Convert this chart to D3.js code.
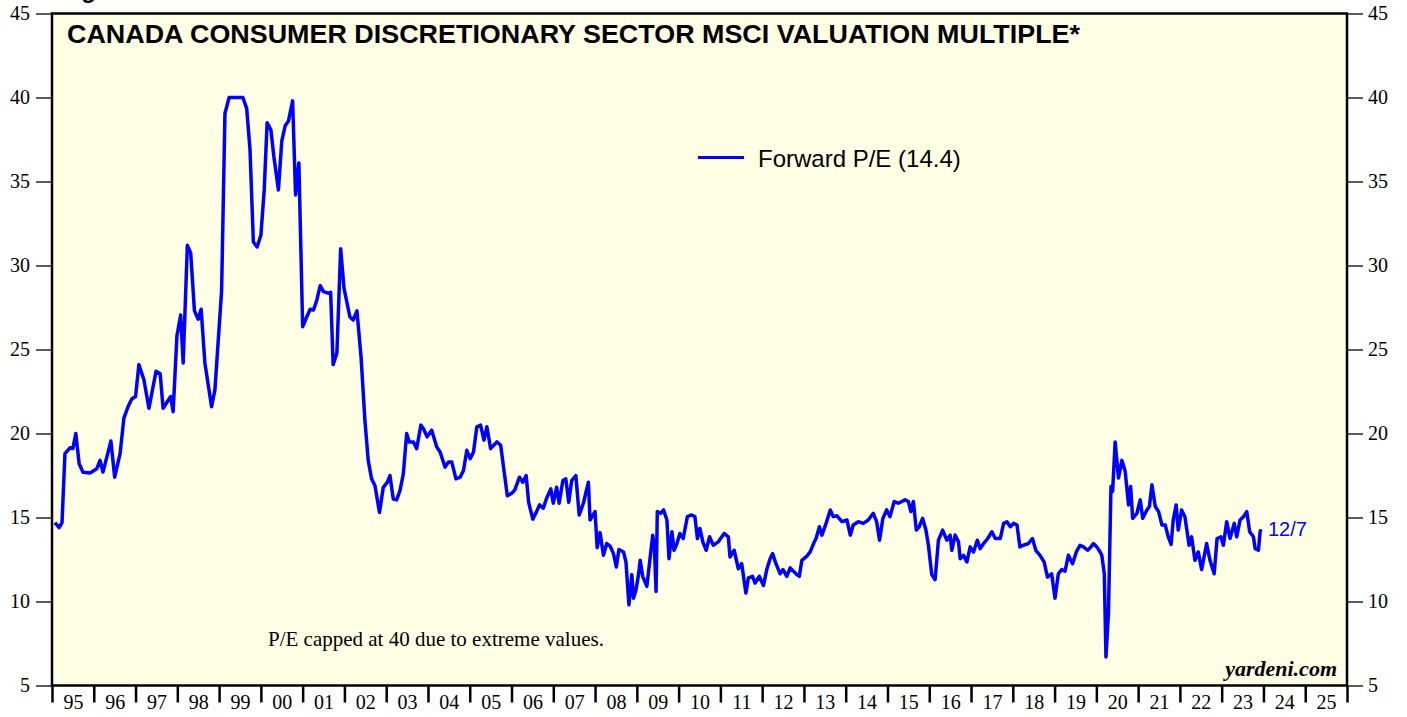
<!DOCTYPE html>
<html>
<head>
<meta charset="utf-8">
<script src="https://cdn.jsdelivr.net/npm/d3@7"></script>
<style>
  body { margin: 0; background: #fff; }
  svg { display: block; }
</style>
</head>
<body>
<script>
// forward P/E (decimal year, value)
var years = [
  1995.07, 1995.17, 1995.24, 1995.31, 1995.43, 1995.50, 1995.57, 1995.65, 1995.74, 1995.91,
  1996.07, 1996.15, 1996.22, 1996.41, 1996.50, 1996.63, 1996.72, 1996.82, 1996.91, 1997.00,
  1997.08, 1997.20, 1997.32, 1997.49, 1997.59, 1997.66, 1997.84, 1997.90, 1997.99, 1998.08,
  1998.14, 1998.24, 1998.32, 1998.41, 1998.50, 1998.57, 1998.66, 1998.82, 1998.90, 1999.06,
  1999.14, 1999.24, 1999.57, 1999.66, 1999.74, 1999.82, 1999.91, 2000.00, 2000.08, 2000.15,
  2000.24, 2000.31, 2000.42, 2000.50, 2000.58, 2000.66, 2000.76, 2000.83, 2000.91, 2001.00,
  2001.10, 2001.18, 2001.26, 2001.34, 2001.42, 2001.50, 2001.61, 2001.67, 2001.73, 2001.82,
  2001.91, 2001.99, 2002.13, 2002.21, 2002.30, 2002.40, 2002.49, 2002.57, 2002.65, 2002.73,
  2002.84, 2002.93, 2003.03, 2003.09, 2003.17, 2003.25, 2003.33, 2003.41, 2003.49, 2003.55,
  2003.65, 2003.73, 2003.83, 2003.89, 2003.98, 2004.09, 2004.21, 2004.29, 2004.41, 2004.49,
  2004.57, 2004.67, 2004.77, 2004.85, 2004.93, 2005.01, 2005.09, 2005.17, 2005.26, 2005.34,
  2005.41, 2005.50, 2005.65, 2005.74, 2005.90, 2006.01, 2006.08, 2006.19, 2006.27, 2006.35,
  2006.41, 2006.51, 2006.60, 2006.67, 2006.76, 2006.84, 2006.94, 2007.00, 2007.08, 2007.14,
  2007.23, 2007.30, 2007.37, 2007.44, 2007.54, 2007.62, 2007.72, 2007.84, 2007.88, 2008.00,
  2008.05, 2008.12, 2008.20, 2008.28, 2008.36, 2008.44, 2008.51, 2008.57, 2008.68, 2008.74,
  2008.81, 2008.88, 2008.92, 2008.98, 2009.04, 2009.08, 2009.14, 2009.24, 2009.32, 2009.38,
  2009.42, 2009.46, 2009.49, 2009.57, 2009.64, 2009.72, 2009.77, 2009.84, 2009.89, 2009.96,
  2010.03, 2010.11, 2010.21, 2010.31, 2010.39, 2010.45, 2010.51, 2010.58, 2010.66, 2010.74,
  2010.83, 2010.95, 2011.09, 2011.19, 2011.23, 2011.33, 2011.43, 2011.51, 2011.61, 2011.67,
  2011.77, 2011.83, 2011.93, 2012.03, 2012.11, 2012.19, 2012.25, 2012.33, 2012.43, 2012.50,
  2012.59, 2012.67, 2012.75, 2012.83, 2012.89, 2012.95, 2013.07, 2013.15, 2013.23, 2013.29,
  2013.37, 2013.43, 2013.53, 2013.63, 2013.70, 2013.79, 2013.91, 2014.03, 2014.11, 2014.18,
  2014.30, 2014.42, 2014.54, 2014.66, 2014.74, 2014.81, 2014.89, 2014.98, 2015.06, 2015.16,
  2015.26, 2015.42, 2015.50, 2015.56, 2015.62, 2015.69, 2015.76, 2015.84, 2015.92, 2015.98,
  2016.06, 2016.14, 2016.22, 2016.32, 2016.42, 2016.50, 2016.54, 2016.62, 2016.70, 2016.74,
  2016.82, 2016.90, 2016.98, 2017.06, 2017.15, 2017.22, 2017.30, 2017.40, 2017.50, 2017.58,
  2017.70, 2017.78, 2017.86, 2017.94, 2018.02, 2018.10, 2018.17, 2018.25, 2018.37, 2018.47,
  2018.55, 2018.65, 2018.75, 2018.83, 2018.93, 2019.01, 2019.09, 2019.17, 2019.25, 2019.33,
  2019.43, 2019.52, 2019.61, 2019.69, 2019.79, 2019.87, 2019.93, 2020.01, 2020.09, 2020.13,
  2020.19, 2020.23, 2020.29, 2020.35, 2020.39, 2020.45, 2020.53, 2020.61, 2020.69, 2020.77,
  2020.82, 2020.87, 2020.97, 2021.05, 2021.11, 2021.21, 2021.27, 2021.33, 2021.41, 2021.49,
  2021.57, 2021.65, 2021.72, 2021.79, 2021.84, 2021.91, 2021.96, 2022.04, 2022.12, 2022.22,
  2022.28, 2022.36, 2022.44, 2022.52, 2022.64, 2022.72, 2022.82, 2022.89, 2022.98, 2023.04,
  2023.12, 2023.20, 2023.30, 2023.36, 2023.44, 2023.52, 2023.60, 2023.67, 2023.76, 2023.80,
  2023.88, 2023.92, 2023.94
];
var pe = [
  14.7, 14.4, 14.7, 18.8, 19.15, 19.1, 20.0, 18.2, 17.7, 17.65,
  17.9, 18.4, 17.7, 19.55, 17.4, 18.8, 20.9, 21.6, 22.05, 22.2,
  24.1, 23.2, 21.5, 23.7, 23.55, 21.5, 22.2, 21.3, 25.8, 27.05,
  24.2, 31.2, 30.75, 27.3, 26.8, 27.4, 24.2, 21.6, 22.6, 28.5,
  39.05, 40, 40, 39.35, 36.9, 31.4, 31.1, 31.8, 34.5, 38.5,
  38.07, 36.5, 34.5, 37.4, 38.3, 38.6, 39.8, 34.2, 36.1, 26.35,
  26.95, 27.4, 27.35, 27.95, 28.8, 28.45, 28.35, 28.4, 24.1, 24.8,
  31.0, 28.65, 26.95, 26.75, 27.3, 24.5, 20.8, 18.4, 17.3, 16.9,
  15.3, 16.8, 17.1, 17.5, 16.1, 16.05, 16.6, 17.6, 20.0, 19.5,
  19.5, 19.1, 20.5, 20.3, 19.8, 20.2, 19.2, 18.9, 18.0, 18.3,
  18.3, 17.3, 17.4, 17.8, 19.0, 18.5, 18.9, 20.4, 20.5, 19.6,
  20.4, 19.1, 19.5, 19.3, 16.3, 16.45, 16.65, 17.4, 17.1, 17.5,
  15.9, 14.9, 15.35, 15.75, 15.55, 16.15, 16.7, 15.85, 16.8, 15.85,
  17.2, 17.3, 15.9, 17.2, 17.5, 15.15, 15.85, 17.1, 14.85, 15.35,
  13.2, 14.1, 12.75, 13.45, 13.3, 12.85, 12.05, 13.1, 12.95, 12.35,
  9.8, 11.6, 10.2, 10.7, 11.6, 12.45, 11.5, 10.9, 12.65, 13.95,
  13.25, 10.6, 15.35, 15.25, 15.45, 14.85, 12.55, 14.15, 13.05, 13.45,
  14.05, 13.75, 15.05, 15.15, 15.05, 13.75, 14.35, 13.55, 13.05, 13.85,
  13.35, 13.55, 14.05, 13.85, 12.65, 13.05, 11.95, 12.25, 10.5, 11.4,
  11.5, 11.1, 11.5, 10.95, 11.9, 12.55, 12.85, 12.25, 11.65, 11.9,
  11.5, 12.0, 11.8, 11.6, 11.5, 12.45, 12.7, 12.95, 13.45, 13.75,
  14.45, 13.95, 14.65, 15.45, 15.05, 15.1, 14.75, 14.85, 13.95, 14.55,
  14.75, 14.65, 14.85, 15.25, 14.75, 13.65, 14.95, 15.45, 15.05, 15.95,
  15.85, 16.05, 15.95, 15.35, 15.95, 14.25, 14.45, 14.95, 14.25, 13.35,
  11.6, 11.3, 13.65, 14.25, 13.65, 13.95, 13.05, 13.95, 13.55, 12.55,
  12.75, 12.35, 13.25, 12.95, 13.65, 13.15, 13.45, 13.75, 14.15, 13.75,
  13.75, 14.65, 14.75, 14.45, 14.65, 14.55, 13.25, 13.35, 13.45, 13.75,
  13.05, 12.75, 12.35, 11.45, 11.65, 10.2, 11.65, 11.9, 11.8, 12.75,
  12.25, 12.95, 13.35, 13.25, 13.05, 13.25, 13.45, 13.25, 12.95, 12.75,
  11.65, 6.7, 9.3, 16.85, 16.55, 19.5, 17.35, 18.4, 17.75, 15.75,
  16.85, 14.95, 15.25, 16.05, 14.95, 15.45, 15.65, 16.95, 15.65, 15.35,
  14.55, 14.55, 13.85, 13.4, 14.85, 15.75, 14.25, 15.45, 15.05, 13.35,
  13.85, 12.45, 12.95, 11.9, 13.45, 12.45, 11.65, 13.75, 13.85, 13.35,
  14.75, 13.75, 14.65, 13.85, 14.85, 15.05, 15.35, 14.15, 13.85, 13.15,
  13.05, 14.15, 14.3
];
var yTicks = [5, 10, 15, 20, 25, 30, 35, 40, 45];
var yearTicks = d3.range(1995, 2027);
var yearLabels = d3.range(1995, 2026);

var title = "CANADA CONSUMER DISCRETIONARY SECTOR MSCI VALUATION MULTIPLE*";
var legendLabel = "Forward P/E (14.4)";
var lastDate = "12/7";
var note = "P/E capped at 40 due to extreme values.";

var W = 1407, H = 717;
var margin = {top: 13.5, right: 60, bottom: 31.5, left: 52};
var width = W - margin.left - margin.right,
    height = H - margin.top - margin.bottom;

var svg = d3.select("body").append("svg")
    .attr("width", W)
    .attr("height", H);

var g = svg.append("g")
    .attr("transform", "translate(" + margin.left + "," + margin.top + ")");

var x = d3.scaleLinear().domain([1995, 2026]).range([0, width]);
var y = d3.scaleLinear().domain([5, 45]).range([height, 0]);

// panel background
g.append("rect")
    .attr("width", width)
    .attr("height", height)
    .attr("fill", "#ffffe6");

// left & right y axes
var yLeft = g.append("g")
    .call(d3.axisLeft(y).tickValues(yTicks).tickSize(16).tickPadding(6));
var yRight = g.append("g")
    .attr("transform", "translate(" + width + ",0)")
    .call(d3.axisRight(y).tickValues(yTicks).tickSize(16).tickPadding(5));

// x axis: tick marks at year boundaries, labels mid-year
var xTicks = g.append("g")
    .attr("transform", "translate(0," + height + ")")
    .call(d3.axisBottom(x).tickValues(yearTicks).tickSize(17).tickFormat(""));
var xLabels = g.append("g")
    .attr("transform", "translate(0," + height + ")")
    .call(d3.axisBottom(x)
      .tickValues(yearLabels.map(function(d) { return d + 0.5; }))
      .tickSize(0).tickPadding(9)
      .tickFormat(function(d) { return d3.format("02")(Math.floor(d) % 100); }));

[yLeft, yRight, xTicks, xLabels].forEach(function(a) {
  a.select(".domain").remove();
  a.selectAll("line").attr("stroke", "#000").attr("stroke-width", 1.3);
  a.selectAll("text")
    .attr("fill", "#000")
    .style("font-family", "'Liberation Serif', 'Times New Roman', serif")
    .style("font-size", "20px");
});
xTicks.selectAll("line").attr("stroke-width", 2.5);

// the series
var line = d3.line()
    .x(function(d) { return x(d[0]); })
    .y(function(d) { return y(d[1]); });

var points = years.map(function(t, i) { return [t, pe[i]]; });

g.append("path")
    .datum(points)
    .attr("fill", "none")
    .attr("stroke", "#0000ff")
    .attr("stroke-width", 3.5)
    .attr("stroke-linejoin", "round")
    .attr("d", line);

// frame
g.append("rect")
    .attr("width", width)
    .attr("height", height)
    .attr("fill", "none")
    .attr("stroke", "#000")
    .attr("stroke-width", 2.5);

// heading above the frame, only its descender shows
svg.append("text")
    .attr("x", 60).attr("y", -2)
    .style("font-family", "'Liberation Sans', Arial, sans-serif")
    .style("font-weight", "bold")
    .style("font-size", "24px")
    .text("Figure");

g.append("text")
    .attr("x", 15).attr("y", 29)
    .attr("textLength", 1013)
    .attr("lengthAdjust", "spacingAndGlyphs")
    .style("font-family", "'Liberation Sans', Arial, sans-serif")
    .style("font-weight", "bold")
    .style("font-size", "26px")
    .text(title);

// legend
g.append("line")
    .attr("x1", 646).attr("x2", 692)
    .attr("y1", 144).attr("y2", 144)
    .attr("stroke", "#0000ff")
    .attr("stroke-width", 3);
g.append("text")
    .attr("x", 706).attr("y", 153)
    .style("font-family", "'Liberation Sans', Arial, sans-serif")
    .style("font-size", "24px")
    .text(legendLabel);

// last-date label next to the line end
g.append("text")
    .attr("x", x(years[years.length - 1]) + 7)
    .attr("y", y(pe[pe.length - 1]) + 7)
    .attr("fill", "#0000ff")
    .style("font-family", "'Liberation Sans', Arial, sans-serif")
    .style("font-size", "20px")
    .text(lastDate);

g.append("text")
    .attr("x", 216).attr("y", 632.5)
    .style("font-family", "'Liberation Serif', 'Times New Roman', serif")
    .style("font-size", "21px")
    .text(note);

g.append("text")
    .attr("x", width - 10).attr("y", 662)
    .attr("text-anchor", "end")
    .style("font-family", "'Liberation Serif', 'Times New Roman', serif")
    .style("font-weight", "bold")
    .style("font-style", "italic")
    .style("font-size", "22px")
    .text("yardeni.com");
</script>
</body>
</html>
